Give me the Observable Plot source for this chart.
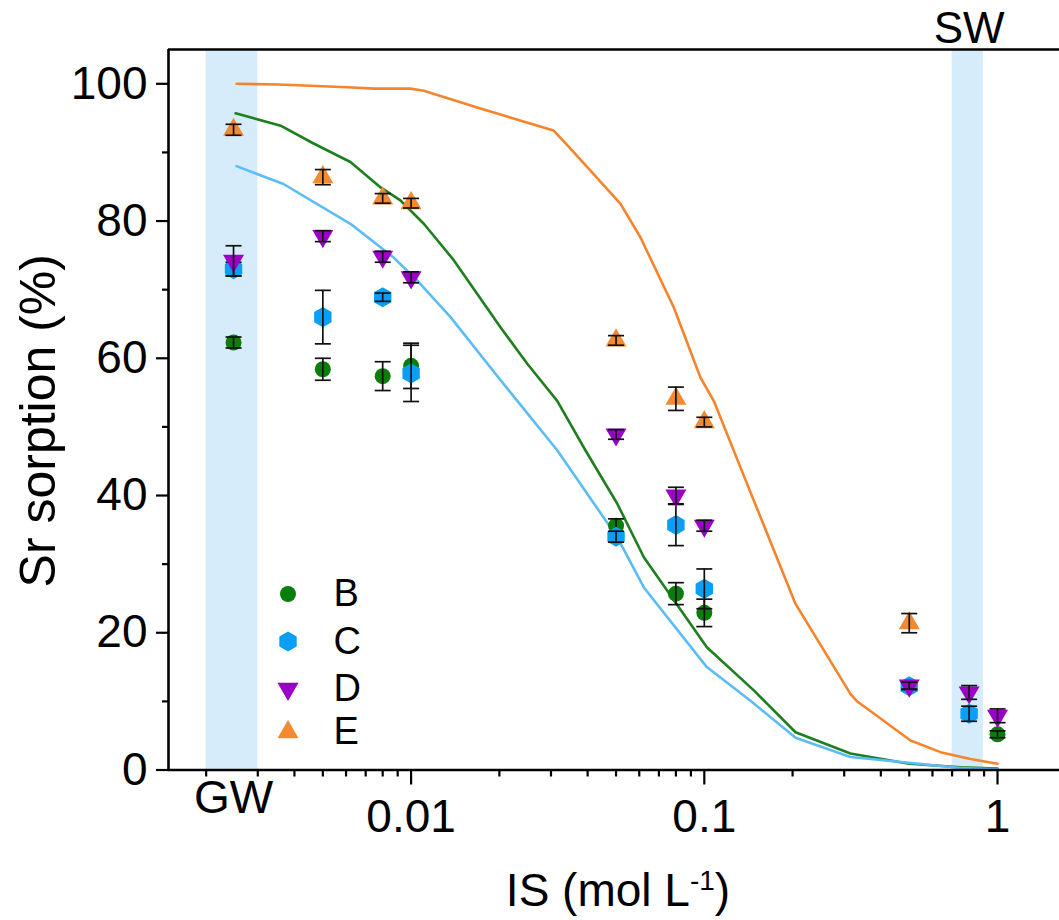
<!DOCTYPE html>
<html><head><meta charset="utf-8">
<script src="https://cdn.jsdelivr.net/npm/d3@7"></script>
<script src="https://cdn.jsdelivr.net/npm/@observablehq/plot@0.6"></script>
<style>body{margin:0;background:#fff} #chart{width:1059px;height:920px}</style>
</head><body><div id="chart"></div>
<script>
// ---------- data ----------
const GW = 0.00248;
const conc = [GW, 0.005, 0.008, 0.01, 0.05, 0.08, 0.1, 0.5, 0.8, 1];
const seriesNames = ["B", "C", "D", "E"];
const sorptionB = [62.3, 58.4, 57.4, 58.9, 35.6, 25.7, 22.9, null, null, 5.2];
const errB      = [0.8, 1.6, 2.1, 3.3, 1.0, 1.6, 2.0, null, null, 0.5];
const sorptionC = [73.0, 66.0, 68.9, 57.8, 34.0, 35.7, 26.4, 12.2, 8.2, null];
const errC      = [1.0, 3.9, 0.6, 4.1, 0.8, 3.0, 2.9, 0.5, 1.1, null];
const sorptionD = [74.2, 77.8, 74.8, 71.8, 48.9, 40.0, 35.6, 12.3, 11.3, 7.9];
const errD      = [2.2, 0.8, 0.8, 0.8, 0.7, 1.2, 0.8, 0.5, 1.0, 1.0];
const sorptionE = [93.3, 86.4, 83.3, 82.6, 62.6, 54.1, 50.7, 21.4, null, null];
const errE      = [0.8, 1.1, 0.7, 0.7, 0.7, 1.7, 0.7, 1.4, null, null];

// model curves [IS, sorption]
const modelB = [[0.00252,95.7],[0.00359,93.9],[0.00465,91.3],[0.00621,88.6],[0.00787,84.9],[0.0092,83.0],[0.01105,79.6],[0.01398,74.3],[0.0202,64.5],[0.0249,59.2],[0.0315,53.8],[0.0393,46.6],[0.0505,38.8],[0.0622,31.0],[0.102,17.9],[0.1475,11.6],[0.2047,5.5],[0.315,2.4],[0.5,0.9],[0.75,0.4],[1.0,0.2]];
const modelC = [[0.00254,88.0],[0.00367,85.4],[0.00621,79.6],[0.00871,74.7],[0.0105,71.3],[0.01363,66.0],[0.0202,56.8],[0.0315,46.6],[0.0505,33.9],[0.0622,26.6],[0.102,15.0],[0.1437,10.1],[0.2047,4.7],[0.315,1.9],[0.75,0.3],[1.0,0.1]];
const modelE = [[0.00254,100.0],[0.00354,99.9],[0.00605,99.5],[0.00746,99.3],[0.00995,99.3],[0.01105,99.0],[0.01724,96.4],[0.0306,93.2],[0.0354,90.3],[0.0518,82.5],[0.0606,77.6],[0.0787,67.4],[0.097,57.2],[0.1077,53.8],[0.1328,44.1],[0.2047,24.2],[0.315,11.1],[0.33,10.1],[0.505,4.3],[0.639,2.6],[0.809,1.6],[1.0,0.9]];

const bands = [{name: "GW", x1: 0.002, x2: 0.003}, {name: "SW", x1: 0.7, x2: 0.895}];
const xMajorTicks = [0.01, 0.1, 1];
const xMinorTicks = [2,3,4,5,6,7,8,9].flatMap(m => [m * 0.001, m * 0.01, m * 0.1]);
const yMajorTicks = [0, 20, 40, 60, 80, 100];
const yMinorTicks = [10, 30, 50, 70, 90];

// ---------- styling ----------
const FONT = "'Liberation Sans', Arial, sans-serif";
const colors = {B: "#0b7d0b", C: "#0a9ff5", D: "#9a00c6", E: "#f28a32"};
const lineColors = {B: "#1f7f1f", C: "#5bbcf7", E: "#f5842c"};
const triDown = {draw(ctx, size) {
  const y = -Math.sqrt(size / (Math.sqrt(3) * 3));
  ctx.moveTo(0, -y * 2); ctx.lineTo(-Math.sqrt(3) * y, y); ctx.lineTo(Math.sqrt(3) * y, y); ctx.closePath();
}};
const capSym = {draw(ctx) { ctx.moveTo(-8, 0); ctx.lineTo(8, 0); }};
const symbols = {B: "circle", C: "hexagon", D: triDown, E: "triangle"};
const radii = {B: 8, C: 8.7, D: 7.8, E: 7.8};

const values = {B: sorptionB, C: sorptionC, D: sorptionD, E: sorptionE};
const errs = {B: errB, C: errC, D: errD, E: errE};
const points = seriesNames.map(s => conc.map((x, i) => ({series: s, x, y: values[s][i], e: errs[s][i]}))
  .filter(d => d.y != null));
const toLine = arr => arr.map(([x, y]) => ({x, y}));

const W = 1059, H = 920;
const mL = 168, mR = 0, mT = 49, mB = 150.5;
const xDomain = [0.001488, 1.627];
const yDomain = [0, 105];

const marks = [
  Plot.rect(bands, {x1: "x1", x2: "x2", y1: yDomain[0], y2: yDomain[1], fill: "#d6ecfb"}),
  Plot.line(toLine(modelB), {x: "x", y: "y", stroke: lineColors.B, strokeWidth: 2.6}),
  Plot.line(toLine(modelC), {x: "x", y: "y", stroke: lineColors.C, strokeWidth: 2.6}),
  Plot.line(toLine(modelE), {x: "x", y: "y", stroke: lineColors.E, strokeWidth: 2.6}),
];
points.forEach((pts, k) => {
  const s = seriesNames[k];
  marks.push(Plot.dot(pts, {x: "x", y: "y", symbol: () => symbols[s], r: radii[s], fill: colors[s], stroke: "none"}));
  const withErr = pts.filter(d => d.e != null);
  marks.push(Plot.ruleX(withErr, {x: "x", y1: d => d.y - d.e, y2: d => d.y + d.e, stroke: "#111", strokeWidth: 1.7}));
  marks.push(Plot.dot(withErr, {x: "x", y: d => d.y - d.e, symbol: () => capSym, stroke: "#111", strokeWidth: 1.7, fill: "none"}));
  marks.push(Plot.dot(withErr, {x: "x", y: d => d.y + d.e, symbol: () => capSym, stroke: "#111", strokeWidth: 1.7, fill: "none"}));
});
// legend (pixel offsets from the bottom-left frame corner)
const legendRowsPx = [176, 128.5, 81.2, 37.8];
seriesNames.forEach((s, i) => {
  marks.push(Plot.dot([s], {frameAnchor: "bottom-left", dx: 119.5, dy: -legendRowsPx[i], symbol: () => symbols[s], r: radii[s], fill: colors[s], stroke: "none"}));
  marks.push(Plot.text([s], {frameAnchor: "bottom-left", dx: 165, dy: -legendRowsPx[i], text: d => d, textAnchor: "start", lineAnchor: "middle", fontSize: 38, fontFamily: FONT, fill: "#000"}));
});
// axes
marks.push(
  Plot.axisX({ticks: xMinorTicks, tickSize: 7, tickFormat: null, text: null, label: null, strokeWidth: 2.2}),
  Plot.axisX({ticks: xMajorTicks, tickSize: 15, tickPadding: 14, tickFormat: d => String(d), label: null, fontSize: 46, fontFamily: FONT, strokeWidth: 2.2, fill: "#000"}),
  Plot.axisY({ticks: yMinorTicks, tickSize: 6, tickFormat: null, text: null, label: null, strokeWidth: 2.2}),
  Plot.axisY({ticks: yMajorTicks, tickSize: 12, tickPadding: 9, label: null, fontSize: 46, fontFamily: FONT, strokeWidth: 2.2, fill: "#000"}),
  Plot.ruleY([yDomain[0]], {stroke: "#000", strokeWidth: 2.6}),
  Plot.ruleY([yDomain[1]], {stroke: "#000", strokeWidth: 2.6}),
  Plot.ruleX([xDomain[0]], {stroke: "#000", strokeWidth: 2.6}),
  Plot.text(["GW"], {x: GW, frameAnchor: "bottom", dy: 28, lineAnchor: "middle", text: d => d, fontSize: 46, fontFamily: FONT, fill: "#000"}),
  Plot.text(["SW"], {x: 0.8, frameAnchor: "top", dy: -21, lineAnchor: "middle", text: d => d, fontSize: 44, fontFamily: FONT, fill: "#000"}),
  Plot.text(["Sr sorption (%)"], {frameAnchor: "left", dx: -130, dy: 11, rotate: -90, textAnchor: "middle", lineAnchor: "middle", text: d => d, fontSize: 50, fontFamily: FONT, fill: "#000"})
);

const chart = Plot.plot({
  width: W, height: H,
  marginLeft: mL, marginRight: mR, marginTop: mT, marginBottom: mB,
  x: {type: "log", domain: xDomain},
  y: {domain: yDomain},
  style: {background: "#fff", color: "#000", fontFamily: FONT, overflow: "visible"},
  marks
});
document.getElementById("chart").appendChild(chart);

// x-axis title with superscript
const svg = d3.select(chart);
const t = svg.append("text").attr("x", 618).attr("y", 906).attr("text-anchor", "middle")
  .style("font-family", FONT).style("font-size", "46px").attr("fill", "#000");
t.append("tspan").text("IS (mol L");
t.append("tspan").attr("dy", -16).style("font-size", "28px").text("-1");
t.append("tspan").attr("dy", 16).text(")");
</script>
</body></html>
